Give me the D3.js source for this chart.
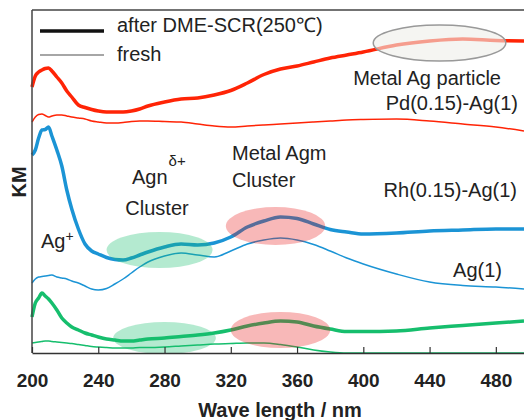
<!DOCTYPE html>
<html>
<head>
<meta charset="utf-8">
<script src="https://cdn.jsdelivr.net/npm/d3@7"></script>
<style>
body { margin: 0; background: #fff; }
text { font-family: "Liberation Sans", Arial, sans-serif; fill: #222; }
</style>
</head>
<body>
<script>
var width = 524;
var height = 420;
var margin = {top: 10, right: 0, bottom: 67, left: 32};
var w = width - margin.left - margin.right;
var h = height - margin.top - margin.bottom;

// wavelength grid (nm)
var wave = [200, 202, 204, 206, 208, 210, 212, 215, 218, 221, 224, 228, 232, 236, 240, 245, 250, 255, 260, 265,
            270, 280, 290, 300, 310, 320, 330, 340, 350, 360, 370, 380, 390, 400, 420, 440, 460, 480, 497];

// KM (arbitrary units, curves offset as in the figure)
var pdAfter = [266, 277, 281, 283, 284.5, 285, 282, 276, 270, 262, 256, 248, 245.5, 243.5, 242, 241, 241, 241, 242, 244,
               247, 251, 254, 255, 258, 262.5, 270, 278.5, 284, 287, 291, 295, 298, 301, 308, 312, 314, 312.5, 312];
var pdFresh = [231, 236, 238.5, 239, 237.5, 236, 237, 238, 238, 237, 236, 235, 234, 232, 231, 230, 230, 230.5, 231.5, 232,
               232, 231.5, 231, 229, 227, 226, 227, 228, 229, 230, 231, 232, 233, 233.5, 234, 232, 229, 226, 222];
var rhAfter = [198, 203, 215, 223, 223.5, 226, 217, 203, 187, 163, 144, 124, 109, 102, 99, 95.5, 93.5, 93, 95, 98,
               101, 106, 109, 108, 110, 116, 126, 132, 136, 134.5, 129, 123.5, 121, 119, 120, 122, 123, 124, 124];
var rhFresh = [70, 74, 76, 76.5, 77, 77.5, 78, 76, 75, 74, 72, 70, 67, 64, 63, 64.5, 69, 74, 80, 86,
               91, 97, 100, 98, 96, 102, 109, 113, 115, 113, 108.5, 102, 95, 89, 79, 71, 67.5, 66, 64];
var agAfter = [36, 50, 55, 60, 57, 54, 50, 43, 35, 30, 26, 23, 20, 18, 16, 14, 13, 12, 12, 13,
               14, 15, 16.5, 18, 20, 23, 27, 30, 32, 31, 27, 24, 21.5, 21.5, 22, 25, 27.5, 30, 32];
var agFresh = [10, 10.5, 11, 11.5, 12, 12, 11.5, 11, 10.5, 10, 9.5, 8.5, 7.5, 6.5, 6, 5.5, 5, 5, 5, 5.5,
               5.5, 6, 7, 8, 9, 9.5, 10, 10, 8.5, 6, 3, 1, 0, 0, 0, 0, 0, 0, 0];

var xTicks = [200, 240, 280, 320, 360, 400, 440, 480];

var red = "#ff2406";
var blue = "#1b94d5";
var green = "#16be6d";

var series = [
  {name: "Pd after", values: pdAfter, color: red, thick: true},
  {name: "Pd fresh", values: pdFresh, color: red, thick: false},
  {name: "Rh after", values: rhAfter, color: blue, thick: true},
  {name: "Rh fresh", values: rhFresh, color: blue, thick: false},
  {name: "Ag after", values: agAfter, color: green, thick: true},
  {name: "Ag fresh", values: agFresh, color: green, thick: false}
];

// highlighted regions: centre (nm, KM), radii (nm, KM)
var regions = [
  {cx: 446, cy: 310, rx: 40, ry: 18, fill: "#efefea", op: 0.6, stroke: "#999"},
  {cx: 277, cy: 103, rx: 32, ry: 18, fill: green, op: 0.32, stroke: "none"},
  {cx: 347, cy: 127, rx: 30, ry: 19, fill: "#e81515", op: 0.3, stroke: "none"},
  {cx: 280, cy: 15, rx: 31, ry: 16, fill: green, op: 0.32, stroke: "none"},
  {cx: 350, cy: 23, rx: 30, ry: 18, fill: "#e81515", op: 0.3, stroke: "none"}
];

var x = d3.scaleLinear().domain([200, 497]).range([0, w]);
var y = d3.scaleLinear().domain([0, 343]).range([h, 0]);

var svg = d3.select("body").append("svg")
  .attr("width", width)
  .attr("height", height)
  .append("g")
  .attr("transform", "translate(" + margin.left + "," + margin.top + ")");

var line = d3.line()
  .x(function(d, i) { return x(wave[i]); })
  .y(function(d) { return y(d); })
  .curve(d3.curveMonotoneX);

svg.selectAll(".curve")
  .data(series)
  .enter()
  .append("path")
  .attr("class", "curve")
  .attr("fill", "none")
  .attr("stroke", function(d) { return d.color; })
  .attr("stroke-width", function(d) { return d.thick ? 3.5 : 1.5; })
  .attr("stroke-linejoin", "round")
  .attr("d", function(d) { return line(d.values); });

svg.selectAll(".region")
  .data(regions)
  .enter()
  .append("ellipse")
  .attr("class", "region")
  .attr("cx", function(d) { return x(d.cx); })
  .attr("cy", function(d) { return y(d.cy); })
  .attr("rx", function(d) { return x(200 + d.rx) - x(200); })
  .attr("ry", function(d) { return y(0) - y(d.ry); })
  .attr("fill", function(d) { return d.fill; })
  .attr("fill-opacity", function(d) { return d.op; })
  .attr("stroke", function(d) { return d.stroke; })
  .attr("stroke-width", 1.5);

// frame: left axis and top border
svg.append("line").attr("x1", 0).attr("x2", 0).attr("y1", 0).attr("y2", h)
  .attr("stroke", "#444").attr("stroke-width", 1.5);
svg.append("line").attr("x1", 0).attr("x2", w).attr("y1", 0).attr("y2", 0)
  .attr("stroke", "#444").attr("stroke-width", 1.5);

var xAxis = svg.append("g")
  .attr("class", "x axis")
  .attr("transform", "translate(0," + h + ")")
  .call(d3.axisBottom(x).tickValues(xTicks).tickSizeInner(-6).tickSizeOuter(0).tickPadding(21));
xAxis.select(".domain").attr("stroke", "#333").attr("stroke-width", 1.5);
xAxis.selectAll(".tick line").attr("stroke", "#333").attr("stroke-width", 1.2);
xAxis.selectAll(".tick text")
  .attr("fill", "#111")
  .style("font-family", "'Liberation Sans', Arial, sans-serif")
  .style("font-size", "19px")
  .style("font-weight", "bold");

svg.append("text")
  .attr("x", 248)
  .attr("y", 407)
  .attr("text-anchor", "middle")
  .style("font-size", "20px")
  .style("font-weight", "bold")
  .text("Wave length / nm");

svg.append("text")
  .attr("transform", "translate(-6,172) rotate(-90)")
  .attr("text-anchor", "middle")
  .style("font-size", "20px")
  .style("font-weight", "bold")
  .text("KM");

// legend
svg.append("line").attr("x1", 8).attr("x2", 72).attr("y1", 21).attr("y2", 21)
  .attr("stroke", "#111").attr("stroke-width", 3.5);
svg.append("line").attr("x1", 8).attr("x2", 72).attr("y1", 45).attr("y2", 45)
  .attr("stroke", "#888").attr("stroke-width", 1.5);
svg.append("text").attr("x", 85).attr("y", 22).style("font-size", "20px").text("after DME-SCR(250\u2103)");
svg.append("text").attr("x", 85).attr("y", 51).style("font-size", "20px").text("fresh");

// annotations
var notes = [
  {t: "Metal Ag particle", x: 469, y: 75, a: "end"},
  {t: "Pd(0.15)-Ag(1)", x: 486, y: 100, a: "end"},
  {t: "Metal Agm", x: 200, y: 150, a: "start"},
  {t: "Cluster", x: 200, y: 177, a: "start"},
  {t: "Rh(0.15)-Ag(1)", x: 485, y: 187, a: "end"},
  {t: "Cluster", x: 125, y: 205, a: "middle"},
  {t: "Ag(1)", x: 470, y: 267, a: "end"}
];
svg.selectAll(".note")
  .data(notes)
  .enter()
  .append("text")
  .attr("class", "note")
  .attr("x", function(d) { return d.x; })
  .attr("y", function(d) { return d.y; })
  .attr("text-anchor", function(d) { return d.a; })
  .style("font-size", "20px")
  .text(function(d) { return d.t; });

var agn = svg.append("text").attr("x", 100).attr("y", 174).style("font-size", "20px");
agn.append("tspan").text("Agn");
agn.append("tspan").attr("dx", 1).attr("dy", -18).style("font-size", "15px").text("\u03b4+");

var agp = svg.append("text").attr("x", 9).attr("y", 238).style("font-size", "20px");
agp.append("tspan").text("Ag");
agp.append("tspan").attr("dy", -7).style("font-size", "14px").text("+");
</script>
</body>
</html>
